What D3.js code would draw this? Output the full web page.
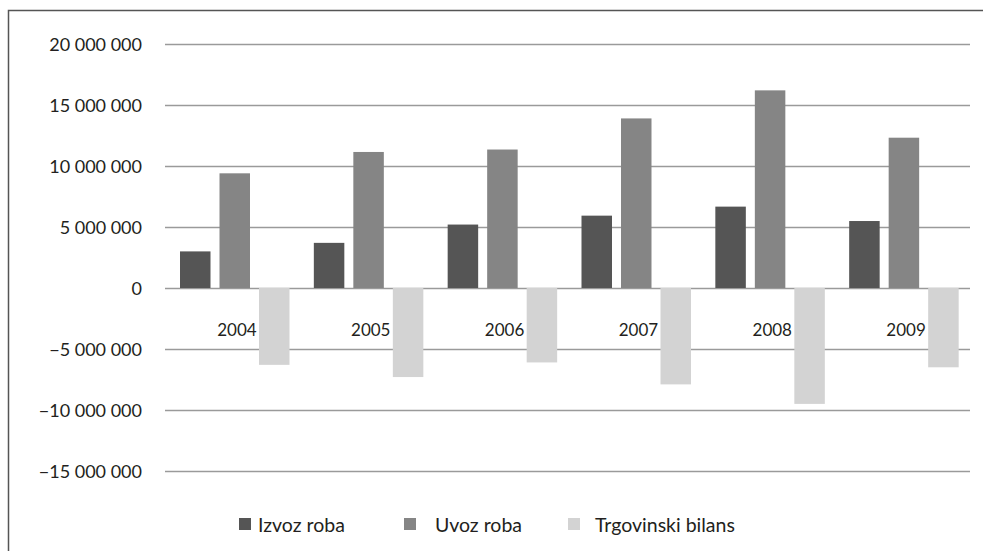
<!DOCTYPE html>
<html>
<head>
<meta charset="utf-8">
<script src="https://cdn.jsdelivr.net/npm/d3@7"></script>
<style>
  html, body { margin: 0; padding: 0; background: #fff; }
  svg { display: block; }
  text { font-family: Lato, "Open Sans", sans-serif; fill: #231f20; }
</style>
</head>
<body>
<svg id="chart" width="983" height="551"></svg>
<script>
// Vanjskotrgovinska razmjena robe, 2004–2009
const years = ["2004", "2005", "2006", "2007", "2008", "2009"];
const seriesNames = ["Izvoz roba", "Uvoz roba", "Trgovinski bilans"];
const izvoz = [3000000, 3700000, 5200000, 5930000, 6670000, 5490000];
const uvoz = [9400000, 11150000, 11350000, 13900000, 16200000, 12320000];
const bilans = [-6300000, -7300000, -6100000, -7900000, -9500000, -6500000];
const yTicks = [-15000000, -10000000, -5000000, 0, 5000000, 10000000, 15000000, 20000000];
const colors = ["#555555", "#858585", "#d3d3d3"];

const svg = d3.select("#chart");

// outer frame (top and left edges)
svg.append("path")
  .attr("d", "M8.5,551 L8.5,10.5 L983,10.5")
  .attr("fill", "none")
  .attr("stroke", "#555")
  .attr("stroke-width", 1.5);

const y = d3.scaleLinear().domain([-20000000, 20000000]).range([532, 44]);
const x = d3.scaleBand().domain(years).range([171, 974]);
const x1 = d3.scaleBand().domain(seriesNames).range([0, 109.5]).paddingInner(0.228).paddingOuter(0);
const groupOffset = 9;

const fmt = v => (v < 0 ? "\u2212" : "") + d3.format(",")(Math.abs(v)).replace(/,/g, " ");

// horizontal gridlines
svg.append("g").selectAll("line")
  .data(yTicks)
  .join("line")
  .attr("x1", 165).attr("x2", 970)
  .attr("y1", d => y(d) + 0.5).attr("y2", d => y(d) + 0.5)
  .attr("stroke", "#9a9a9a")
  .attr("stroke-width", 1.6);

// value axis labels
svg.append("g").selectAll("text")
  .data(yTicks)
  .join("text")
  .attr("x", 142)
  .attr("y", d => y(d) + 1)
  .attr("dy", "0.35em")
  .attr("text-anchor", "end")
  .attr("font-size", 18)
  .text(fmt);

// bars
const table = years.map((yr, i) => ({ year: yr, values: [izvoz[i], uvoz[i], bilans[i]] }));
const groups = svg.append("g").selectAll("g")
  .data(table)
  .join("g")
  .attr("transform", d => `translate(${x(d.year) + groupOffset},0)`);

groups.selectAll("rect")
  .data(d => d.values.map((v, j) => ({ v, name: seriesNames[j], j })))
  .join("rect")
  .attr("x", d => x1(d.name))
  .attr("width", x1.bandwidth())
  .attr("y", d => Math.min(y(d.v), y(0)))
  .attr("height", d => Math.abs(y(d.v) - y(0)))
  .attr("fill", d => colors[d.j]);

// category labels
svg.append("g").selectAll("text")
  .data(years)
  .join("text")
  .attr("x", d => x(d) + x.bandwidth() / 2 - 1)
  .attr("y", 330)
  .attr("dy", "0.35em")
  .attr("text-anchor", "middle")
  .attr("font-size", 17)
  .text(d => d);

// legend
const legendX = [239, 404, 568];
const legendTextX = [258, 435, 595];
const legend = svg.append("g").selectAll("g")
  .data(seriesNames)
  .join("g");
legend.append("rect")
  .attr("x", (d, i) => legendX[i])
  .attr("y", 518)
  .attr("width", 12).attr("height", 12)
  .attr("fill", (d, i) => colors[i]);
legend.append("text")
  .attr("x", (d, i) => legendTextX[i])
  .attr("y", 525)
  .attr("dy", "0.35em")
  .attr("font-size", 19.5)
  .text(d => d);
</script>
</body>
</html>
